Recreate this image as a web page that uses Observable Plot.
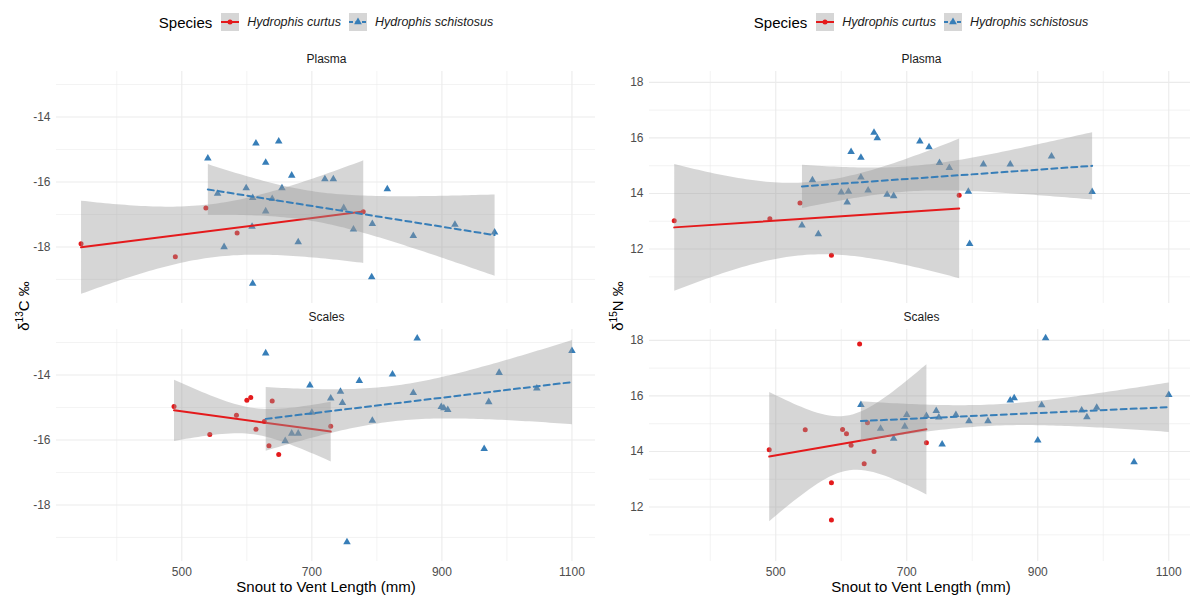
<!DOCTYPE html>
<html>
<head>
<meta charset="utf-8">
<script src="https://cdn.jsdelivr.net/npm/d3@7"></script>
<script src="https://cdn.jsdelivr.net/npm/@observablehq/plot@0.6"></script>
<style>
  body { margin: 0; background: #fff; }
  #root { position: relative; width: 1190px; height: 595px; overflow: hidden; background: #fff;
          font-family: "Liberation Sans", Arial, Helvetica, sans-serif; }
  .col { position: absolute; top: 0; width: 595px; height: 595px; }
  .legend { position: absolute; top: 13px; height: 18px; display: flex; align-items: center;
            justify-content: center; white-space: nowrap; }
  .legend .title { font-size: 15px; color: #000; margin-right: 9px; }
  .legend .lab { font-size: 12.5px; font-style: italic; color: #1A1A1A; margin-left: 8px; margin-right: 8px; }
  .legend svg { display: block; }
  .plotbox { position: absolute; top: 45px; left: 0; }
  .ylab { position: absolute; font-size: 15px; color: #000; transform: translate(-50%, -50%) rotate(-90deg);
          white-space: nowrap; }
  .ylab sup { font-size: 10px; vertical-align: 6px; line-height: 0; }
  .xlab { position: absolute; font-size: 15px; color: #000; transform: translate(-50%, -50%); white-space: nowrap; }
</style>
</head>
<body>
<div id="root">
  <div class="col" id="colL" style="left:0px"></div>
  <div class="col" id="colR" style="left:595px"></div>
</div>
<script>
// ---------------- data ----------------
const tissues = ["Plasma", "Scales"];
const speciesNames = ["Hydrophis curtus", "Hydrophis schistosus"];
const speciesColors = ["#E41A1C", "#377EB8"];

const xTicks = [500, 700, 900, 1100];
const xMinorGrid = [400, 600, 800, 1000];
const c13Ticks = [-18, -16, -14];
const c13MinorGrid = [-19, -17, -15, -13];
const n15Ticks = [12, 14, 16, 18];
const n15MinorGrid = [11, 13, 15, 17];

// [snout-vent length (mm), delta value]
const c13PlasmaCurtus = [[345,-17.9],[490,-18.3],[537,-16.8],[585,-17.57],[779,-16.92]];
const c13PlasmaSchistosus = [[540,-15.27],[555,-16.36],[565,-18.0],[599,-16.19],[609,-16.49],[608,-17.37],
  [614,-14.81],[609,-19.13],[629,-15.4],[629,-16.9],[639,-16.52],[649,-14.75],[654,-16.19],[669,-15.8],
  [679,-17.85],[720,-15.91],[733,-15.91],[749,-16.8],[764,-17.46],[793,-17.29],[792,-18.93],[816,-16.22],
  [856,-17.66],[920,-17.31],[981,-17.55]];
const c13ScalesCurtus = [[488,-14.97],[543,-15.83],[584,-15.24],[600,-14.78],[606,-14.69],[614,-15.67],
  [627,-15.43],[634,-16.18],[639,-14.8],[649,-16.45],[729,-15.58]];
const c13ScalesSchistosus = [[629,-13.33],[659,-16.03],[669,-15.8],[679,-15.8],[697,-14.32],[700,-15.16],
  [729,-14.72],[744,-14.51],[747,-14.86],[754,-19.14],[773,-14.18],[793,-15.4],[824,-13.98],[856,-14.55],
  [862,-12.87],[899,-14.98],[903,-15.02],[909,-15.07],[965,-16.27],[972,-14.83],[988,-13.93],[1046,-14.41],
  [1100,-13.26]];

const n15PlasmaCurtus = [[345,13.02],[491,13.09],[537,13.66],[585,11.78],[780,13.94]];
const n15PlasmaSchistosus = [[540,12.85],[556,14.48],[565,12.54],[600,14.04],[609,13.68],[611,14.07],
  [615,15.5],[630,15.29],[630,14.58],[641,14.11],[650,16.19],[655,15.99],[670,13.96],[680,13.91],
  [720,15.88],[734,15.67],[750,15.1],[765,14.92],[794,14.07],[796,12.19],[817,15.05],[858,15.05],
  [921,15.34],[983,14.06]];
const n15ScalesCurtus = [[490,14.06],[545,14.78],[585,12.87],[585,11.53],[602,14.79],[608,14.64],
  [615,14.22],[628,17.87],[635,13.56],[640,15.03],[650,14.0],[730,14.31]];
const n15ScalesSchistosus = [[630,15.68],[660,14.82],[680,14.46],[697,14.9],[700,15.32],[730,15.28],
  [745,15.46],[749,15.23],[754,14.26],[775,15.32],[795,15.09],[824,15.09],[858,15.84],[864,15.92],
  [900,14.4],[906,15.67],[912,18.08],[967,15.48],[975,15.24],[990,15.58],[1047,13.62],[1100,16.04]];

// ---------------- helpers ----------------
function rowsFrom(tissue, species, pairs) {
  return pairs.map(([svl, v]) => ({tissue, species, svl, v}));
}
const xDomain = [307.25, 1137.75];
const xMid = (xDomain[0] + xDomain[1]) / 2;

function makePanel({rows, yDomain, yTicks, yMinor, xRange, marginLeft}) {
  const curtus = rows.filter(d => d.species === speciesNames[0]);
  const schist = rows.filter(d => d.species === speciesNames[1]);
  return Plot.plot({
    width: 595,
    height: 550,
    marginTop: 26,
    marginBottom: 34,
    marginLeft,
    marginRight: 0,
    style: {fontFamily: "Liberation Sans, Arial, sans-serif", background: "transparent", overflow: "visible"},
    x: {domain: xDomain, range: xRange},
    y: {domain: yDomain},
    fy: {domain: tissues, paddingInner: 26 / 258, paddingOuter: 0, round: false, axis: null},
    marks: [
      Plot.gridX(xMinorGrid, {stroke: "#EBEBEB", strokeOpacity: 1, strokeWidth: 0.6}),
      Plot.gridX(xTicks, {stroke: "#EBEBEB", strokeOpacity: 1, strokeWidth: 1.1}),
      Plot.gridY(yMinor, {stroke: "#EBEBEB", strokeOpacity: 1, strokeWidth: 0.6}),
      Plot.gridY(yTicks, {stroke: "#EBEBEB", strokeOpacity: 1, strokeWidth: 1.1}),
      Plot.axisY(yTicks, {tickSize: 0, tickPadding: 6, tickFormat: d => String(d), fontSize: 12,
        color: "#4D4D4D", label: null}),
      Plot.axisX(xTicks, {tickSize: 0, tickPadding: 6, tickFormat: d => String(d), fontSize: 12,
        color: "#4D4D4D", label: null}),
      Plot.text(tissues, {fy: d => d, x: () => xMid, text: d => d, frameAnchor: "top", lineAnchor: "middle",
        dy: -12, fontSize: 12, fill: "#1A1A1A"}),
      Plot.dot(curtus, {x: "svl", y: "v", fy: "tissue", fill: speciesColors[0], r: 2.5, symbol: "circle"}),
      Plot.dot(schist, {x: "svl", y: "v", fy: "tissue", fill: speciesColors[1], r: 2.8, symbol: "triangle"}),
      Plot.linearRegressionY(curtus, {x: "svl", y: "v", fy: "tissue", stroke: speciesColors[0],
        strokeWidth: 2, fill: "#999999", fillOpacity: 0.4, ci: 0.95}),
      Plot.linearRegressionY(schist, {x: "svl", y: "v", fy: "tissue", stroke: speciesColors[1],
        strokeWidth: 2, strokeDasharray: "6,4", fill: "#999999", fillOpacity: 0.4, ci: 0.95})
    ]
  });
}

function legendHTML() {
  const keyBg = '<rect x="0" y="0" width="18" height="18" fill="#999999" fill-opacity="0.4"></rect>';
  const redKey = `<svg width="18" height="18">${keyBg}<line x1="0" x2="18" y1="9" y2="9" stroke="${speciesColors[0]}" stroke-width="2"></line><circle cx="9" cy="9" r="2.5" fill="${speciesColors[0]}"></circle></svg>`;
  const tri = d3.symbol(d3.symbolTriangle, 26)();
  const blueKey = `<svg width="18" height="18">${keyBg}<line x1="0" x2="18" y1="9" y2="9" stroke="${speciesColors[1]}" stroke-width="2" stroke-dasharray="4,2.5"></line><path transform="translate(9,9)" d="${tri}" fill="${speciesColors[1]}"></path></svg>`;
  return `<span class="title">Species</span>${redKey}<span class="lab">${speciesNames[0]}</span>${blueKey}<span class="lab" style="margin-right:0">${speciesNames[1]}</span>`;
}

function buildColumn(el, cfg) {
  const legend = document.createElement("div");
  legend.className = "legend";
  legend.style.left = cfg.panelLeft + "px";
  legend.style.width = (cfg.panelRight - cfg.panelLeft) + "px";
  legend.innerHTML = legendHTML();
  el.appendChild(legend);

  const box = document.createElement("div");
  box.className = "plotbox";
  box.appendChild(makePanel(cfg));
  el.appendChild(box);

  const ylab = document.createElement("div");
  ylab.className = "ylab";
  ylab.style.left = cfg.ylabX + "px";
  ylab.style.top = "306px";
  ylab.innerHTML = cfg.ylabHTML;
  el.appendChild(ylab);

  const xlab = document.createElement("div");
  xlab.className = "xlab";
  xlab.style.left = ((cfg.panelLeft + cfg.panelRight) / 2) + "px";
  xlab.style.top = "586px";
  xlab.textContent = "Snout to Vent Length (mm)";
  el.appendChild(xlab);
}

const c13Rows = [
  ...rowsFrom("Plasma", speciesNames[0], c13PlasmaCurtus),
  ...rowsFrom("Plasma", speciesNames[1], c13PlasmaSchistosus),
  ...rowsFrom("Scales", speciesNames[0], c13ScalesCurtus),
  ...rowsFrom("Scales", speciesNames[1], c13ScalesSchistosus)
];
const n15Rows = [
  ...rowsFrom("Plasma", speciesNames[0], n15PlasmaCurtus),
  ...rowsFrom("Plasma", speciesNames[1], n15PlasmaSchistosus),
  ...rowsFrom("Scales", speciesNames[0], n15ScalesCurtus),
  ...rowsFrom("Scales", speciesNames[1], n15ScalesSchistosus)
];

buildColumn(document.getElementById("colL"), {
  rows: c13Rows, yDomain: [-19.74, -12.6], yTicks: c13Ticks, yMinor: c13MinorGrid,
  xRange: [56, 596], marginLeft: 56, panelLeft: 56, panelRight: 596,
  ylabX: 23, ylabHTML: 'δ<sup>13</sup>C ‰'
});
buildColumn(document.getElementById("colR"), {
  rows: n15Rows, yDomain: [10.04, 18.39], yTicks: n15Ticks, yMinor: n15MinorGrid,
  xRange: [54, 598], marginLeft: 54, panelLeft: 54, panelRight: 598,
  ylabX: 22, ylabHTML: 'δ<sup>15</sup>N ‰'
});
</script>
</body>
</html>
